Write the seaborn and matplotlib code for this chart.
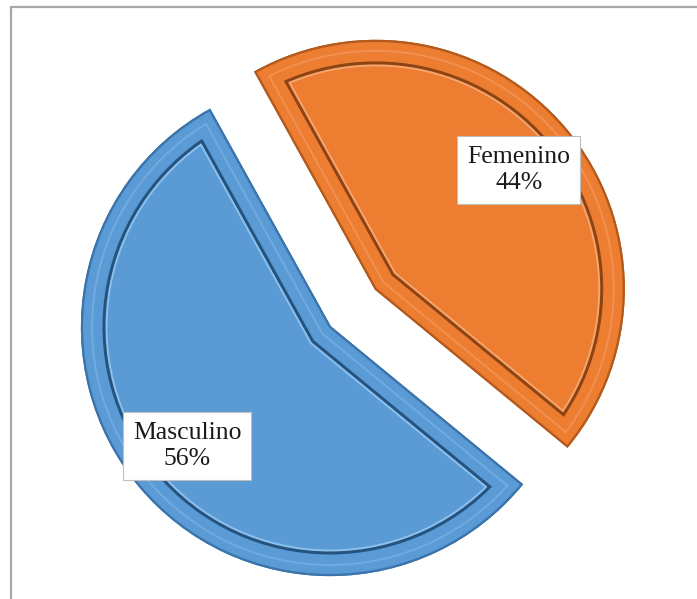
import matplotlib
matplotlib.use("Agg")
import matplotlib.pyplot as plt
from matplotlib.patches import PathPatch
from matplotlib.lines import Line2D
import seaborn as sns

# ---- data ----
categories = ["Femenino", "Masculino"]
values = [44, 56]
colors = ["#ED7D31", "#5B9BD5"]
dark_lines = ["#8E4412", "#24537F"]
highlights = ["#F6A56C", "#8DC0EC"]
soft_highlights = ["#F19050", "#6FAAE0"]
outer_edges = ["#B35A1C", "#3A74AB"]
explode = [0.24, 0.0]

sns.set_theme(style="white")

W, H, DPI = 697, 599, 100
fig = plt.figure(figsize=(W / DPI, H / DPI), dpi=DPI)
ax = fig.add_axes([0, 0, 1, 1])

unit = 248.0  # pixels per data unit
cx, cy = 330.0, 327.0  # pixel position of pie centre

label_iter = iter(categories)


def fmt(p):
    return f"{next(label_iter)}\n{p:.0f}%"


wedges, texts, autotexts = ax.pie(
    values,
    colors=colors,
    explode=explode,
    startangle=119,
    counterclock=False,
    radius=1.0,
    autopct=fmt,
    pctdistance=0.75,
    wedgeprops=dict(linewidth=1.6, joinstyle="miter"),
    frame=True,
)
ax.set_xlim(-cx / unit, (W - cx) / unit)
ax.set_ylim(-(H - cy) / unit, cy / unit)
ax.set_aspect("auto")
ax.axis("off")

px = 0.72  # points per pixel at dpi 100
for i, w in enumerate(wedges):
    w.set_edgecolor(outer_edges[i])
    path = w.get_path()
    layers = [
        (highlights[i], 51),
        (dark_lines[i], 47),
        (colors[i], 41),
        (soft_highlights[i], 22),
        (colors[i], 18),
    ]
    for col, lw in layers:
        p = PathPatch(path, transform=w.get_transform(), facecolor="none",
                      edgecolor=col, linewidth=lw * px, joinstyle="miter",
                      zorder=w.get_zorder() + 0.1)
        ax.add_patch(p)
        p.set_clip_path(w)
    ax.add_patch(PathPatch(path, transform=w.get_transform(), facecolor="none",
                           edgecolor=outer_edges[i], linewidth=1.6,
                           joinstyle="miter", zorder=w.get_zorder() + 0.2))

for t in autotexts:
    t.set_fontfamily("Liberation Serif")
    t.set_fontsize(18.5)
    t.set_color("#1a1a1a")
    t.set_linespacing(1.25)
    t.set_zorder(10)
    t.set_bbox(dict(boxstyle="square,pad=0.38", facecolor="white",
                    edgecolor="#BFBFBF", linewidth=0.8))

# chart frame (top and left edges visible)
fig.add_artist(Line2D([10.5 / W, 1.0], [1 - 6.5 / H, 1 - 6.5 / H],
                      transform=fig.transFigure, color="#A8A8A8", linewidth=1.6))
fig.add_artist(Line2D([10.5 / W, 10.5 / W], [0.0, 1 - 6.5 / H],
                      transform=fig.transFigure, color="#A8A8A8", linewidth=1.6))

fig.savefig("out.png", dpi=DPI, facecolor="white")
